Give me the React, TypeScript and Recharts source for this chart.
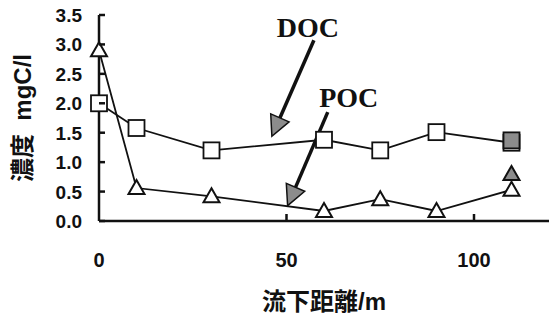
import { ComposedChart, Line, XAxis, YAxis, ReferenceLine, ReferenceDot, Label } from "recharts";

// distance downstream (m) and carbon concentrations (mgC/l)
const distance = [0, 10, 30, 60, 75, 90, 110];
const doc = [2.0, 1.58, 1.2, 1.38, 1.2, 1.51, 1.33];
const poc = [2.9, 0.56, 0.42, 0.17, 0.37, 0.17, 0.53];
// grey markers only at the last station
const docGrey = [null, null, null, null, null, null, 1.37];
const pocGrey = [null, null, null, null, null, null, 0.8];

const xTicks = [0, 50, 100];
const yTicks = [0, 0.5, 1.0, 1.5, 2.0, 2.5, 3.0, 3.5];

// annotation text anchors and arrows, in data units
const docText = { x: 55.7, y: 3.28, text: "DOC" };
const pocText = { x: 66.6, y: 2.09, text: "POC" };
const docArrow = [{ x: 57.3, y: 3.07 }, { x: 46.1, y: 1.44 }];
const pocArrow = [{ x: 61.0, y: 1.85 }, { x: 50.3, y: 0.26 }];

const rows = distance.map((d, i) => ({
  distance: d,
  doc: doc[i],
  poc: poc[i],
  docGrey: docGrey[i],
  pocGrey: pocGrey[i],
}));

const INK = "#111";
const GREY = "#8c8c8c";
const SANS = "'Liberation Sans', Arial, 'Noto Sans CJK JP', sans-serif";
const X_MARGIN = 32;
const Y_MARGIN = 17;

const square = (fill: string) => (p: any) => {
  if (p.cx == null || p.cy == null || p.value == null) return <g key={p.index} />;
  return <rect key={p.index} x={p.cx - 8} y={p.cy - 8} width={16} height={16} fill={fill} stroke={INK} strokeWidth={1.8} />;
};

const triangle = (fill: string) => (p: any) => {
  if (p.cx == null || p.cy == null || p.value == null) return <g key={p.index} />;
  const { cx, cy } = p;
  return (
    <polygon
      key={p.index}
      points={`${cx},${cy - 8} ${cx + 8},${cy + 6} ${cx - 8},${cy + 6}`}
      fill={fill}
      stroke={INK}
      strokeWidth={2}
    />
  );
};

// tick label plus a short inward tick mark
const XTick = (p: any) => {
  const ay = p.y - X_MARGIN;
  return (
    <g>
      {p.payload.value !== 0 && <line x1={p.x} x2={p.x} y1={ay} y2={ay - 7} stroke={INK} strokeWidth={2.5} />}
      <text x={p.x} y={p.y + 14} textAnchor="middle" fill={INK} fontSize={20} fontWeight="bold" fontFamily={SANS}>
        {p.payload.value}
      </text>
    </g>
  );
};

const YTick = (p: any) => {
  const ax = p.x + Y_MARGIN;
  return (
    <g>
      <line x1={ax} x2={ax + 6} y1={p.y} y2={p.y} stroke={INK} strokeWidth={2.5} />
      <text x={p.x} y={p.y + 7} textAnchor="end" fill={INK} fontSize={19} fontWeight="bold" fontFamily={SANS}>
        {Number(p.payload.value).toFixed(1)}
      </text>
    </g>
  );
};

const Arrow = (p: any) => {
  const { x1, y1, x2, y2 } = p;
  const dx = x2 - x1;
  const dy = y2 - y1;
  const len = Math.sqrt(dx * dx + dy * dy);
  const ux = dx / len;
  const uy = dy / len;
  const head = 20;
  const bx = x2 - ux * head;
  const by = y2 - uy * head;
  const hw = 10;
  return (
    <g>
      <line x1={x1} y1={y1} x2={bx} y2={by} stroke={INK} strokeWidth={3.5} />
      <polygon
        points={`${x2},${y2} ${bx - uy * hw},${by + ux * hw} ${bx + uy * hw},${by - ux * hw}`}
        fill={GREY}
        stroke={INK}
        strokeWidth={1.5}
      />
    </g>
  );
};

const annotation = (text: string) => (p: any) => (
  <text
    x={p.cx}
    y={p.cy}
    textAnchor="middle"
    dominantBaseline="central"
    fontFamily="'Liberation Serif', 'Times New Roman', serif"
    fontWeight="bold"
    fontSize={28}
    fill={INK}
  >
    {text}
  </text>
);

const App = () => {
  return (
    <div style={{ position: "absolute", left: 0, top: 0, background: "#fff" }}>
      <ComposedChart width={549} height={316} data={rows} margin={{ top: 15, right: 0, left: 0, bottom: 0 }}>
        <XAxis
          type="number"
          dataKey="distance"
          domain={[0, 120]}
          ticks={xTicks}
          height={95}
          tickSize={0}
          tickMargin={X_MARGIN}
          tickLine={false}
          axisLine={{ stroke: INK, strokeWidth: 2.5 }}
          tick={XTick}
        >
          <Label
            content={(props: any) => {
              const vb = props.viewBox;
              return (
                <text
                  x={vb.x + vb.width / 2}
                  y={310}
                  textAnchor="middle"
                  fontFamily={SANS}
                  fontWeight="bold"
                  fontSize={24}
                  fill={INK}
                >
                  流下距離/m
                </text>
              );
            }}
          />
        </XAxis>
        <YAxis
          type="number"
          domain={[0, 3.5]}
          ticks={yTicks}
          width={99}
          tickSize={0}
          tickMargin={Y_MARGIN}
          tickLine={false}
          axisLine={{ stroke: INK, strokeWidth: 2.5 }}
          tick={YTick}
        >
          <Label
            content={(props: any) => {
              const vb = props.viewBox;
              const cx = vb.x + 22;
              const cy = vb.y + vb.height / 2;
              return (
                <text
                  x={cx}
                  y={cy}
                  transform={`rotate(-90 ${cx} ${cy})`}
                  textAnchor="middle"
                  dominantBaseline="central"
                  fontFamily={SANS}
                  fontWeight="bold"
                  fontSize={24}
                  fill={INK}
                  style={{ whiteSpace: "pre" }}
                >
                  {"濃度  mgC/l"}
                </text>
              );
            }}
          />
        </YAxis>

        <Line dataKey="doc" stroke={INK} strokeWidth={1.8} dot={square("#fff")} isAnimationActive={false} />
        <Line dataKey="poc" stroke={INK} strokeWidth={1.8} dot={triangle("#fff")} isAnimationActive={false} />
        <Line dataKey="docGrey" stroke="none" dot={square(GREY)} isAnimationActive={false} />
        <Line dataKey="pocGrey" stroke="none" dot={triangle(GREY)} isAnimationActive={false} />

        <ReferenceLine segment={docArrow} shape={Arrow} ifOverflow="visible" />
        <ReferenceLine segment={pocArrow} shape={Arrow} ifOverflow="visible" />
        <ReferenceDot x={docText.x} y={docText.y} shape={annotation(docText.text)} ifOverflow="visible" />
        <ReferenceDot x={pocText.x} y={pocText.y} shape={annotation(pocText.text)} ifOverflow="visible" />
      </ComposedChart>
    </div>
  );
};

export default App;
